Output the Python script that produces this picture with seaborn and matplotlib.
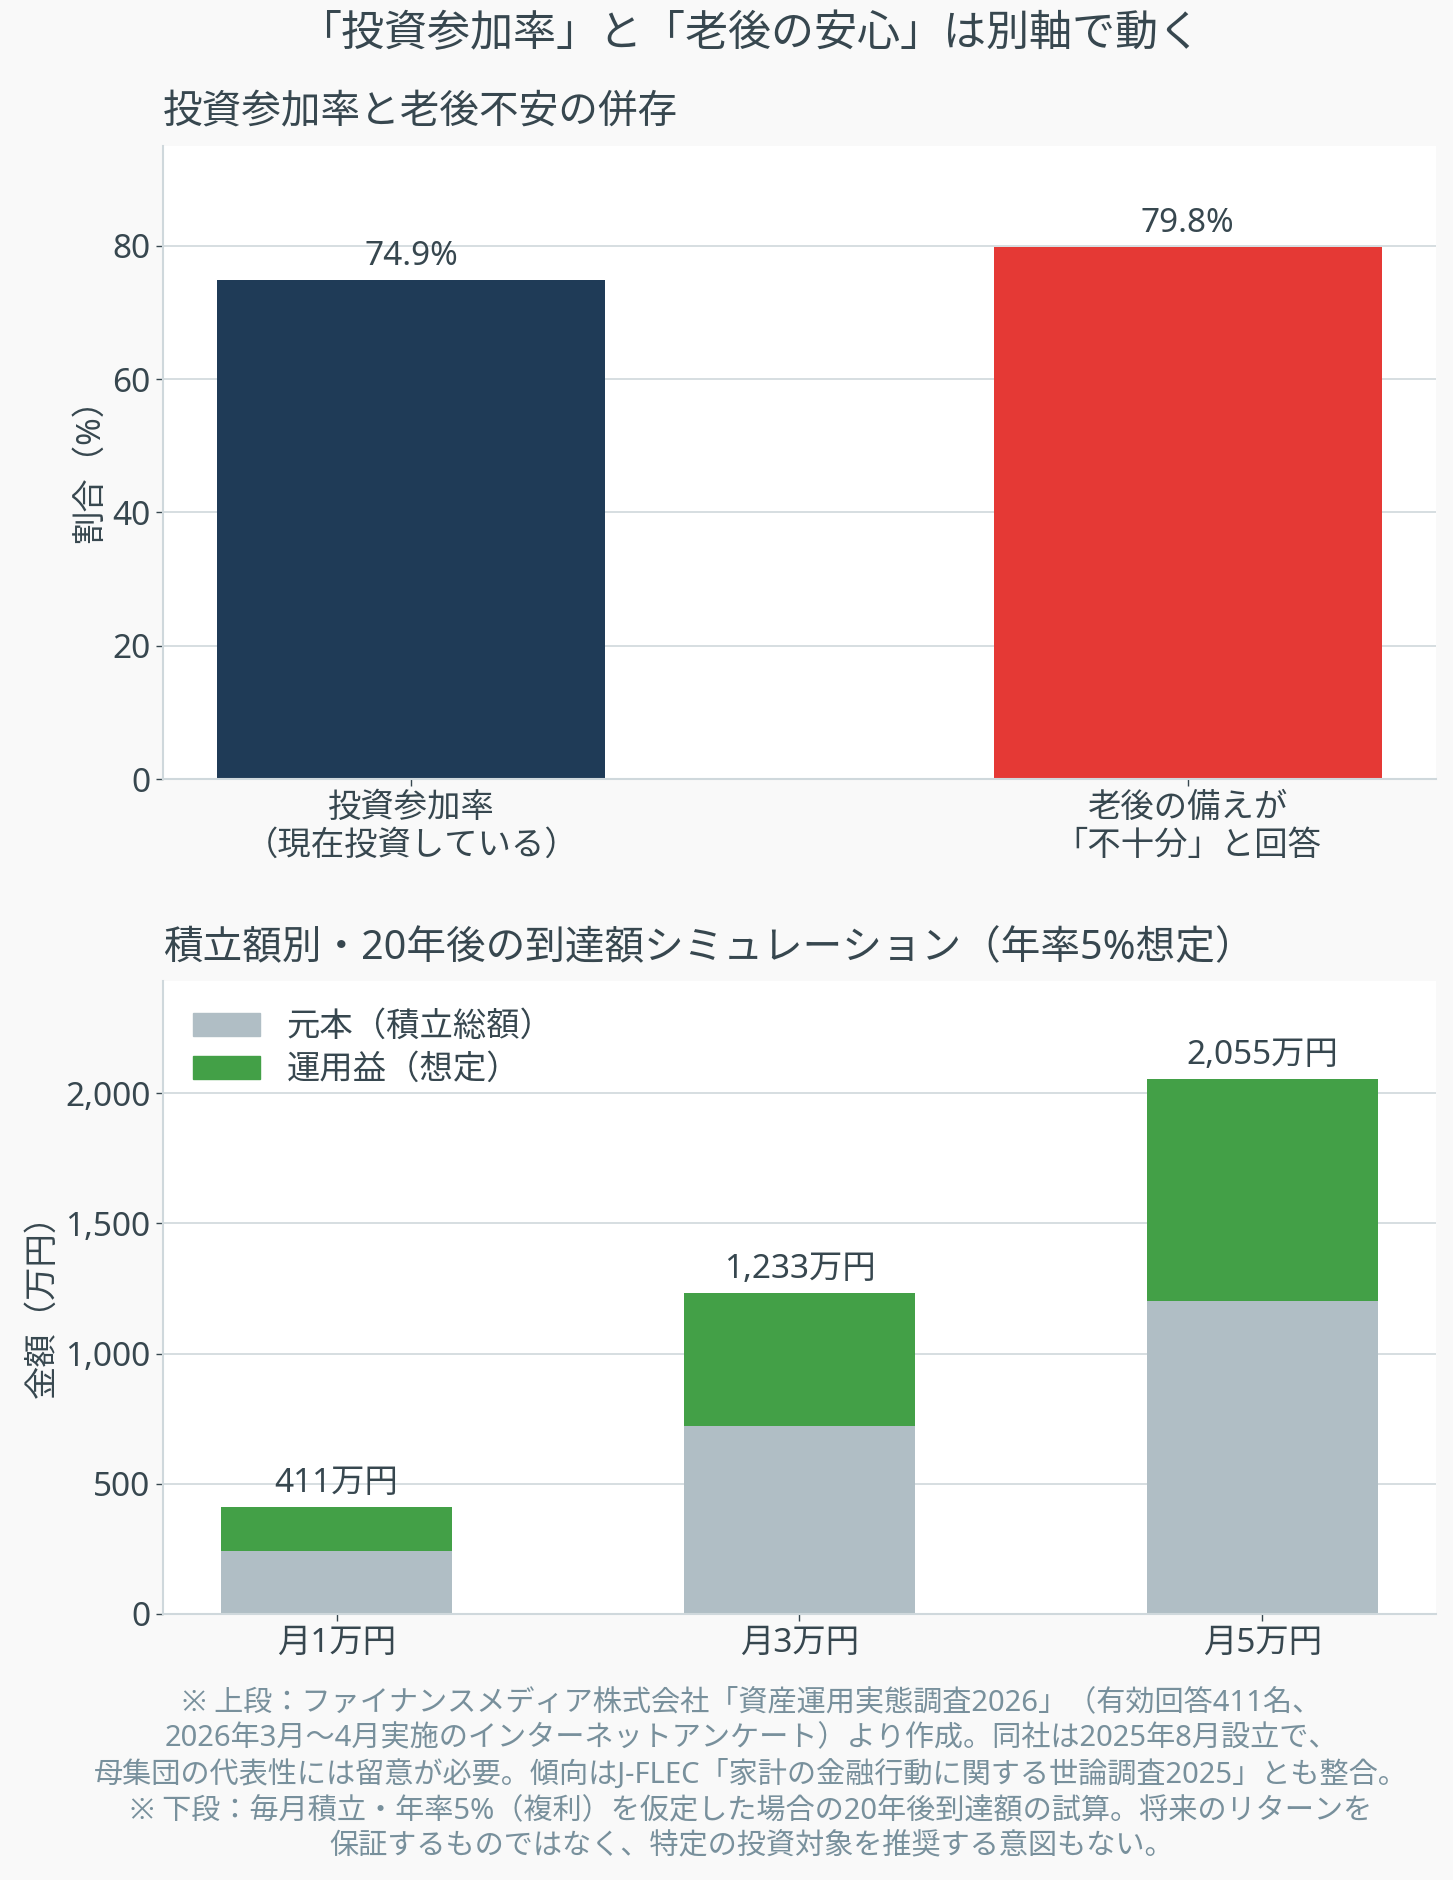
import numpy as np
import matplotlib
matplotlib.use("Agg")
import matplotlib.pyplot as plt
from matplotlib.patches import Patch
from matplotlib.ticker import FuncFormatter
import seaborn as sns
import pandas as pd

# データ
top_labels = ["投資参加率\n（現在投資している）", "老後の備えが\n「不十分」と回答"]
top_values = [74.9, 79.8]
top_colors = ["#1F3B57", "#E53935"]

plans = ["月1万円", "月3万円", "月5万円"]
principal = [240, 720, 1200]
total = [411, 1233, 2055]

footnote = ("※ 上段：ファイナンスメディア株式会社「資産運用実態調査2026」（有効回答411名、\n"
            "2026年3月〜4月実施のインターネットアンケート）より作成。同社は2025年8月設立で、\n"
            "母集団の代表性には留意が必要。傾向はJ-FLEC「家計の金融行動に関する世論調査2025」とも整合。\n"
            "※ 下段：毎月積立・年率5%（複利）を仮定した場合の20年後到達額の試算。将来のリターンを\n"
            "保証するものではなく、特定の投資対象を推奨する意図もない。")

TEXT = "#37474F"
GRID = "#CFD8DC"
BG = "#F9F9F9"
FS = 24

sns.set_theme(style="whitegrid")
plt.rcParams["font.family"] = ["Noto Sans", "Noto Sans CJK JP", "DejaVu Sans"]
plt.rcParams.update({
    "text.color": TEXT,
    "axes.labelcolor": TEXT,
    "xtick.color": TEXT,
    "ytick.color": TEXT,
    "axes.edgecolor": GRID,
    "grid.color": GRID,
})

W, H = 1453, 1880
fig = plt.figure(figsize=(W / 100, H / 100), dpi=100, facecolor=BG)
ax1 = fig.add_axes([163 / W, 1 - 779 / H, 1273 / W, 633 / H])
ax2 = fig.add_axes([163 / W, 1 - 1614 / H, 1273 / W, 633 / H])

# 上段
df_top = pd.DataFrame({"項目": top_labels, "割合": top_values})
sns.barplot(data=df_top, x="項目", y="割合", hue="項目", palette=top_colors,
            width=0.5, legend=False, ax=ax1, saturation=1, linewidth=0)
for i, v in enumerate(top_values):
    ax1.annotate(f"{v}%", (i, v), xytext=(0, 5), textcoords="offset points",
                 ha="center", va="bottom", fontsize=FS, color=TEXT)
ax1.set_xlim(-0.32, 1.32)
ax1.set_ylim(0, 95)
ax1.set_yticks([0, 20, 40, 60, 80])
ax1.set_xlabel("")
ax1.set_ylabel("割合（%）", fontsize=FS)
ax1.set_title("投資参加率と老後不安の併存", loc="left", fontsize=28.5, pad=16, color=TEXT)

# 下段（積み上げ）
df_bot = pd.DataFrame({"プラン": plans, "元本": principal, "合計": total})
sns.barplot(data=df_bot, x="プラン", y="合計", color="#43A047", width=0.5,
            ax=ax2, saturation=1, linewidth=0)
sns.barplot(data=df_bot, x="プラン", y="元本", color="#B0BEC5", width=0.5,
            ax=ax2, saturation=1, linewidth=0)
for i, t in enumerate(total):
    ax2.annotate(f"{t:,}万円", (i, t), xytext=(0, 5), textcoords="offset points",
                 ha="center", va="bottom", fontsize=FS, color=TEXT)
ax2.set_xlim(-0.375, 2.375)
ax2.set_ylim(0, 2430)
ax2.set_yticks([0, 500, 1000, 1500, 2000])
ax2.yaxis.set_major_formatter(FuncFormatter(lambda v, p: f"{int(v):,}"))
ax2.set_xlabel("")
ax2.set_ylabel("金額（万円）", fontsize=FS)
ax2.set_title("積立額別・20年後の到達額シミュレーション（年率5%想定）", loc="left",
              fontsize=28.5, pad=16, color=TEXT)
handles = [Patch(color="#B0BEC5", label="元本（積立総額）"),
           Patch(color="#43A047", label="運用益（想定）")]
ax2.legend(handles=handles, loc="upper left", frameon=False, fontsize=FS,
           handlelength=2.0, handletextpad=0.8, borderaxespad=0.5, labelspacing=0.3)

for ax in (ax1, ax2):
    ax.set_facecolor("white")
    ax.grid(axis="x", visible=False)
    ax.grid(axis="y", color=GRID, linewidth=1.2)
    ax.set_axisbelow(True)
    for s in ("top", "right"):
        ax.spines[s].set_visible(False)
    for s in ("left", "bottom"):
        ax.spines[s].set_color(GRID)
        ax.spines[s].set_linewidth(1.5)
    ax.tick_params(axis="both", labelsize=FS, length=5, width=1, color=TEXT,
                   bottom=True, left=True, pad=4)

fig.text(0.516, 1 - 35 / H, "「投資参加率」と「老後の安心」は別軸で動く",
         ha="center", va="center", fontsize=31, color=TEXT)
fig.text(0.517, 1 - 1775 / H, footnote, ha="center", va="center",
         multialignment="center", fontsize=21, color="#78909C", linespacing=1.3)

fig.savefig("out.png", dpi=100, facecolor=BG)
